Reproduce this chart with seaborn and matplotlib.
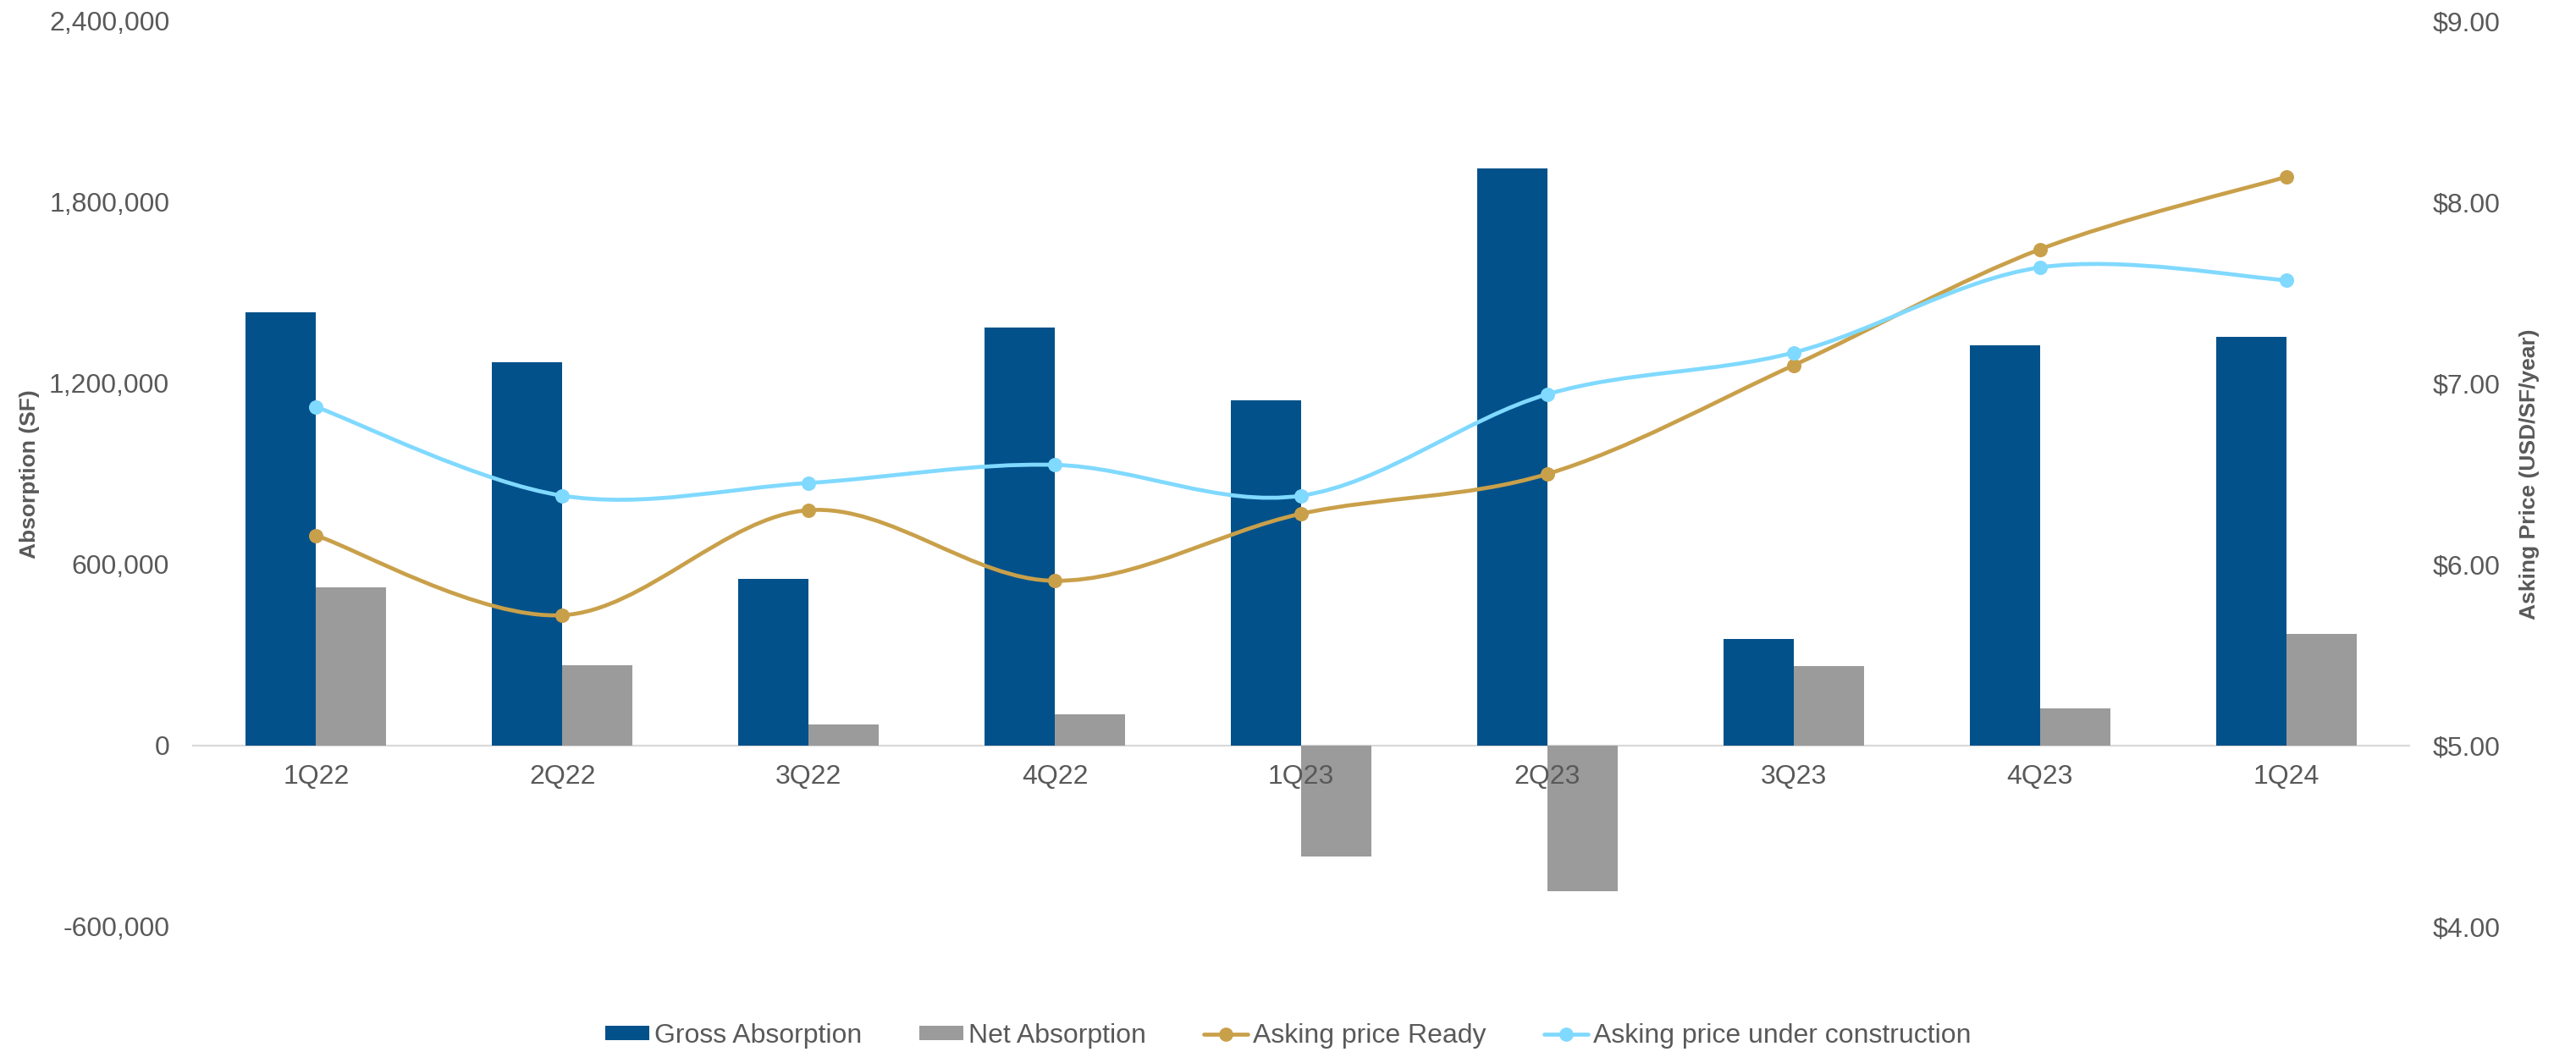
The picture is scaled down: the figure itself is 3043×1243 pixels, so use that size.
import numpy as np
import pandas as pd
import matplotlib
matplotlib.use("Agg")
import matplotlib.pyplot as plt
from matplotlib.path import Path
from matplotlib.patches import PathPatch, Patch
from matplotlib.lines import Line2D
from matplotlib.ticker import FuncFormatter, FixedLocator
import seaborn as sns

# Quarterly absorption (SF) and asking prices (USD/SF/year)
quarters = ["1Q22", "2Q22", "3Q22", "4Q22", "1Q23", "2Q23", "3Q23", "4Q23", "1Q24"]
gross_absorption = [1435000, 1269000, 553000, 1385000, 1144000, 1911000, 353000, 1325000, 1354000]
net_absorption = [525000, 265000, 69000, 105000, -367000, -481000, 263000, 124000, 370000]
price_ready = [6.16, 5.72, 6.30, 5.91, 6.28, 6.50, 7.10, 7.74, 8.14]
price_under_construction = [6.87, 6.38, 6.45, 6.55, 6.38, 6.94, 7.17, 7.64, 7.57]

left_ticks = [-600000, 0, 600000, 1200000, 1800000, 2400000]
right_ticks = [4, 5, 6, 7, 8, 9]

GROSS = "#02518A"
NET = "#9B9B9B"
GOLD = "#C9A04A"
SKY = "#80D9FF"
TEXT = "#595959"
AXIS = "#D9D9D9"

sns.set_theme(style="white")
plt.rcParams["font.family"] = ["Liberation Sans", "DejaVu Sans"]

bars = pd.DataFrame({
    "quarter": quarters * 2,
    "value": gross_absorption + net_absorption,
    "series": ["Gross Absorption"] * len(quarters) + ["Net Absorption"] * len(quarters),
})

fig = plt.figure(figsize=(30.43, 12.43), dpi=100)
ax = fig.add_axes([0.0749, 0.1191, 0.8604, 0.8608])

sns.barplot(data=bars, x="quarter", y="value", hue="series", order=quarters,
            palette={"Gross Absorption": GROSS, "Net Absorption": NET},
            width=0.57, gap=0, saturation=1, linewidth=0, ax=ax, legend=False)

ax.set_xlim(-0.5, len(quarters) - 0.5)
ax.set_ylim(-600000, 2400000)
ax.yaxis.set_major_locator(FixedLocator(left_ticks))
ax.yaxis.set_major_formatter(FuncFormatter(lambda v, p: f"{v:,.0f}"))
ax.set_xlabel("")
ax.set_ylabel("Absorption (SF)", fontsize=19, fontweight="bold", color=TEXT)
ax.yaxis.set_label_coords(-0.0737, 0.5)
ax.yaxis.label.set_va("center")

for side in ["top", "right", "left"]:
    ax.spines[side].set_visible(False)
ax.spines["bottom"].set_position(("data", 0))
ax.spines["bottom"].set_color(AXIS)
ax.spines["bottom"].set_linewidth(1.6)
ax.spines["bottom"].set_zorder(0.8)
ax.tick_params(axis="x", length=0, pad=16, labelsize=23, labelcolor=TEXT)
ax.tick_params(axis="y", length=0, pad=20, labelsize=23, labelcolor=TEXT)
ax.grid(False)
# quarter labels sit on top of the negative bars
ax.xaxis.set_zorder(5)

# Price axis on the right
ax2 = ax.twinx()
ax2.set_ylim(4, 9)
ax2.yaxis.set_major_locator(FixedLocator(right_ticks))
ax2.yaxis.set_major_formatter(FuncFormatter(lambda v, p: f"${v:.2f}"))
for side in ["top", "right", "left", "bottom"]:
    ax2.spines[side].set_visible(False)
ax2.tick_params(axis="y", length=0, pad=20, labelsize=23, labelcolor=TEXT)
ax2.grid(False)
ax2.set_ylabel("Asking Price (USD/SF/year)", fontsize=19, fontweight="bold", color=TEXT)
ax2.yaxis.set_label_coords(1.0542, 0.5)
ax2.yaxis.label.set_va("center")


def smooth_path(xs, ys):
    """Cubic Bezier path through the points (Catmull-Rom style smoothing)."""
    pts = np.column_stack([xs, ys]).astype(float)
    n = len(pts)
    verts = [pts[0]]
    codes = [Path.MOVETO]
    for i in range(n - 1):
        p0 = pts[i - 1] if i > 0 else pts[i]
        p1 = pts[i]
        p2 = pts[i + 1]
        p3 = pts[i + 2] if i + 2 < n else pts[i + 1]
        verts += [p1 + (p2 - p0) / 6, p2 - (p3 - p1) / 6, p2]
        codes += [Path.CURVE4] * 3
    return Path(verts, codes)


xpos = np.arange(len(quarters))
for values, color in [(price_ready, GOLD), (price_under_construction, SKY)]:
    ax2.add_patch(PathPatch(smooth_path(xpos, values), facecolor="none",
                            edgecolor=color, linewidth=3.4, capstyle="round",
                            joinstyle="round", zorder=2))
    sns.scatterplot(x=xpos, y=values, color=color, s=150, linewidth=0,
                    ax=ax2, zorder=3, legend=False)
ax2.set_xlim(-0.5, len(quarters) - 0.5)

handles = [
    Patch(facecolor=GROSS, edgecolor="none"),
    Patch(facecolor=NET, edgecolor="none"),
    Line2D([0], [0], color=GOLD, lw=3.4, marker="o", markersize=11),
    Line2D([0], [0], color=SKY, lw=3.4, marker="o", markersize=11),
]
labels = ["Gross Absorption", "Net Absorption", "Asking price Ready",
          "Asking price under construction"]
leg = fig.legend(handles, labels, loc="center", bbox_to_anchor=(0.5, 0.0153),
                 ncol=4, frameon=False, fontsize=23, handlelength=1.63,
                 handleheight=0.47, handletextpad=0.19, columnspacing=2.13,
                 borderpad=0, borderaxespad=0)
for t in leg.get_texts():
    t.set_color(TEXT)

fig.savefig("out.png", dpi=100, facecolor="white")
